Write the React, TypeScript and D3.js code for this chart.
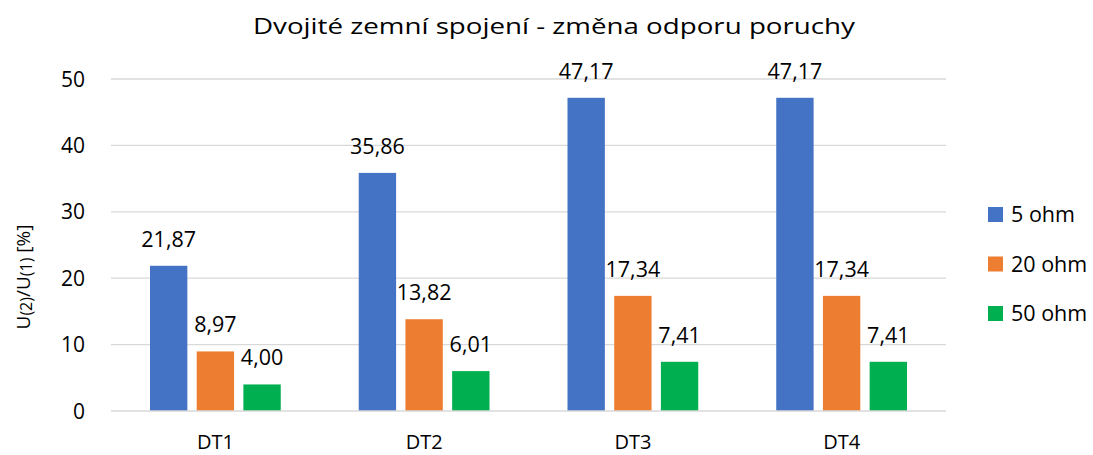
import React from "react";
import * as d3 from "d3";

const categories = ["DT1", "DT2", "DT3", "DT4"];
const seriesNames = ["5 ohm", "20 ohm", "50 ohm"];
const ohm5 = [21.87, 35.86, 47.17, 47.17];
const ohm20 = [8.97, 13.82, 17.34, 17.34];
const ohm50 = [4.0, 6.01, 7.41, 7.41];
const yTicks = [0, 10, 20, 30, 40, 50];
const title = "Dvojité zemní spojení - změna odporu poruchy";
const colors = ["#4472C4", "#ED7D31", "#00B050"];

const W = 1093, H = 455;
const left = 111, right = 946, top = 79, bottom = 411;
const FONT = "'Open Sans', 'Noto Sans', sans-serif";

export default function App() {
  const series = [ohm5, ohm20, ohm50];
  const x = d3.scaleBand<string>().domain(categories).range([left, right]).paddingInner(0).paddingOuter(0);
  const inner = d3.scaleBand<string>().domain(seriesNames).range([39, x.bandwidth() - 39]).paddingInner(0.2).paddingOuter(0);
  const y = d3.scaleLinear().domain([0, 50]).range([bottom, top]);
  const fmt = (v: number) => v.toFixed(2).replace(".", ",");
  return (
    <svg width={W} height={H} style={{ position: "absolute", left: 0, top: 0, background: "#fff" }} fontFamily={FONT}>
      <rect width={W} height={H} fill="#fff" />
      <text x={253} y={34} fontSize={22.5} fill="#000" textLength={602} lengthAdjust="spacingAndGlyphs">{title}</text>
      {yTicks.map((t) => (
        <g key={t}>
          {t > 0 && <line x1={left} x2={right} y1={y(t)} y2={y(t)} stroke="#D9D9D9" strokeWidth={1.3} />}
          <text x={85} y={y(t)} dy="0.36em" textAnchor="end" fontSize={21} fill="#000">{t}</text>
        </g>
      ))}
      {categories.map((c, ci) => (
        <g key={c}>
          {series.map((s, si) => {
            const bx = (x(c) as number) + (inner(seriesNames[si]) as number);
            const bw = inner.bandwidth();
            return (
              <g key={si}>
                <rect x={bx} y={y(s[ci])} width={bw} height={bottom - y(s[ci])} fill={colors[si]} />
                <text x={bx + bw / 2} y={y(s[ci]) - 19} textAnchor="middle" fontSize={21.5} fill="#000">{fmt(s[ci])}</text>
              </g>
            );
          })}
          <text x={(x(c) as number) + x.bandwidth() / 2} y={449} textAnchor="middle" fontSize={20} fill="#000">{c}</text>
        </g>
      ))}
      <line x1={left} x2={right} y1={bottom} y2={bottom} stroke="#D9D9D9" strokeWidth={1.3} />
      <text transform={`translate(30,${277}) rotate(-90)`} textAnchor="middle" fontSize={19} fill="#000">
        U<tspan fontSize={16} dy={2}>(2)</tspan><tspan dy={-2}>/U</tspan><tspan fontSize={16} dy={2}>(1)</tspan><tspan dy={-2}> [%]</tspan>
      </text>
      {seriesNames.map((n, i) => (
        <g key={n} transform={`translate(988,${214.5 + i * 49.5})`}>
          <rect x={0} y={-7.5} width={15} height={15} fill={colors[i]} />
          <text x={23} y={0} dy="0.36em" fontSize={21.5} fill="#000">{n}</text>
        </g>
      ))}
    </svg>
  );
}
